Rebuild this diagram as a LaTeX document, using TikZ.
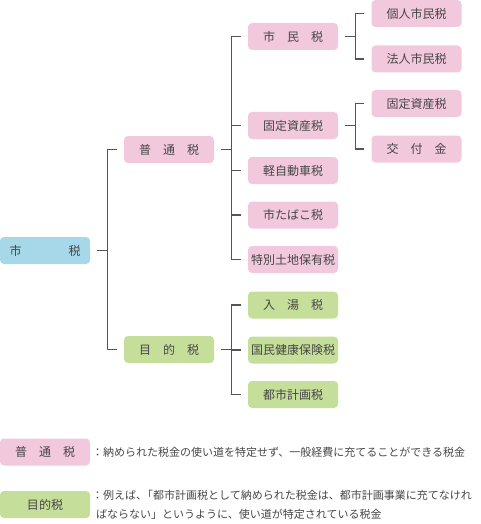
\documentclass[tikz,border=0pt]{standalone}
\usepackage{fontspec}
\newfontfamily\cjk{Noto Sans CJK JP}
\definecolor{pinkbox}{RGB}{242,200,221}
\definecolor{bluebox}{RGB}{166,216,234}
\definecolor{greenbox}{RGB}{197,222,154}
\definecolor{txt}{RGB}{70,70,70}
\definecolor{linec}{RGB}{85,85,85}
\tikzset{
  box/.style={rounded corners=4pt, minimum width=90pt, minimum height=27pt, inner sep=0pt, text=txt, font=\cjk\fontsize{12}{12}\selectfont},
  pinkb/.style={box, fill=pinkbox},
  blueb/.style={box, fill=bluebox},
  greenb/.style={box, fill=greenbox},
  conn/.style={draw=linec, line width=1.3pt},
  legtext/.style={anchor=west, inner sep=0pt, text=txt, font=\cjk\fontsize{11}{11}\selectfont}
}
\newcommand{\branch}[2]{\path[conn] ([xshift=7pt]#1.east) -- ++(10pt,0) |- ([xshift=-7pt]#2.west);}
\begin{document}
\begin{tikzpicture}[x=1pt,y=-1pt]
\useasboundingbox (0,0) rectangle (480,524);
% level 0
\node[blueb] (shizei) at (45,250.5) {市\hspace{47pt}税};
% level 1
\node[pinkb] (futsu) at (169,149.5) {普　通　税};
\node[greenb] (mokuteki) at (169,349.5) {目　的　税};
% level 2
\node[pinkb] (shimin) at (293,36.5) {市　民　税};
\node[pinkb] (kotei) at (293,125.5) {固定資産税};
\node[pinkb] (kei) at (293,170.5) {軽自動車税};
\node[pinkb] (tabako) at (293,215) {市たばこ税};
\node[pinkb] (tokubetsu) at (293,259.5) {特別土地保有税};
\node[greenb] (nyuto) at (293,305) {入　湯　税};
\node[greenb] (kokumin) at (293,350) {国民健康保険税};
\node[greenb] (toshi) at (293,394.5) {都市計画税};
% level 3
\node[pinkb] (kojin) at (416.5,13.5) {個人市民税};
\node[pinkb] (hojin) at (416.5,59) {法人市民税};
\node[pinkb] (kotei2) at (416.5,103.5) {固定資産税};
\node[pinkb] (kofu) at (416.5,149) {交　付　金};
% connectors
\branch{shizei}{futsu}
\branch{shizei}{mokuteki}
\branch{futsu}{shimin}
\branch{futsu}{kotei}
\branch{futsu}{kei}
\branch{futsu}{tabako}
\branch{futsu}{tokubetsu}
\branch{mokuteki}{nyuto}
\branch{mokuteki}{kokumin}
\branch{mokuteki}{toshi}
\branch{shimin}{kojin}
\branch{shimin}{hojin}
\branch{kotei}{kotei2}
\branch{kotei}{kofu}
% legend
\node[pinkb] (legfutsu) at (45,452) {普　通　税};
\node[greenb] (legmoku) at (45,504.5) {目的税};
\node[legtext] (def1) at (92,452) {：納められた税金の使い道を特定せず、一般経費に充てることができる税金};
\node[legtext] (def2a) at (92,495) {：例えば、\kern-5pt「都市計画税として納められた税金は、都市計画事業に充てなけれ};
\node[legtext] (def2b) at (96,514) {ばならない」というように、使い道が特定されている税金};
\end{tikzpicture}
\end{document}
